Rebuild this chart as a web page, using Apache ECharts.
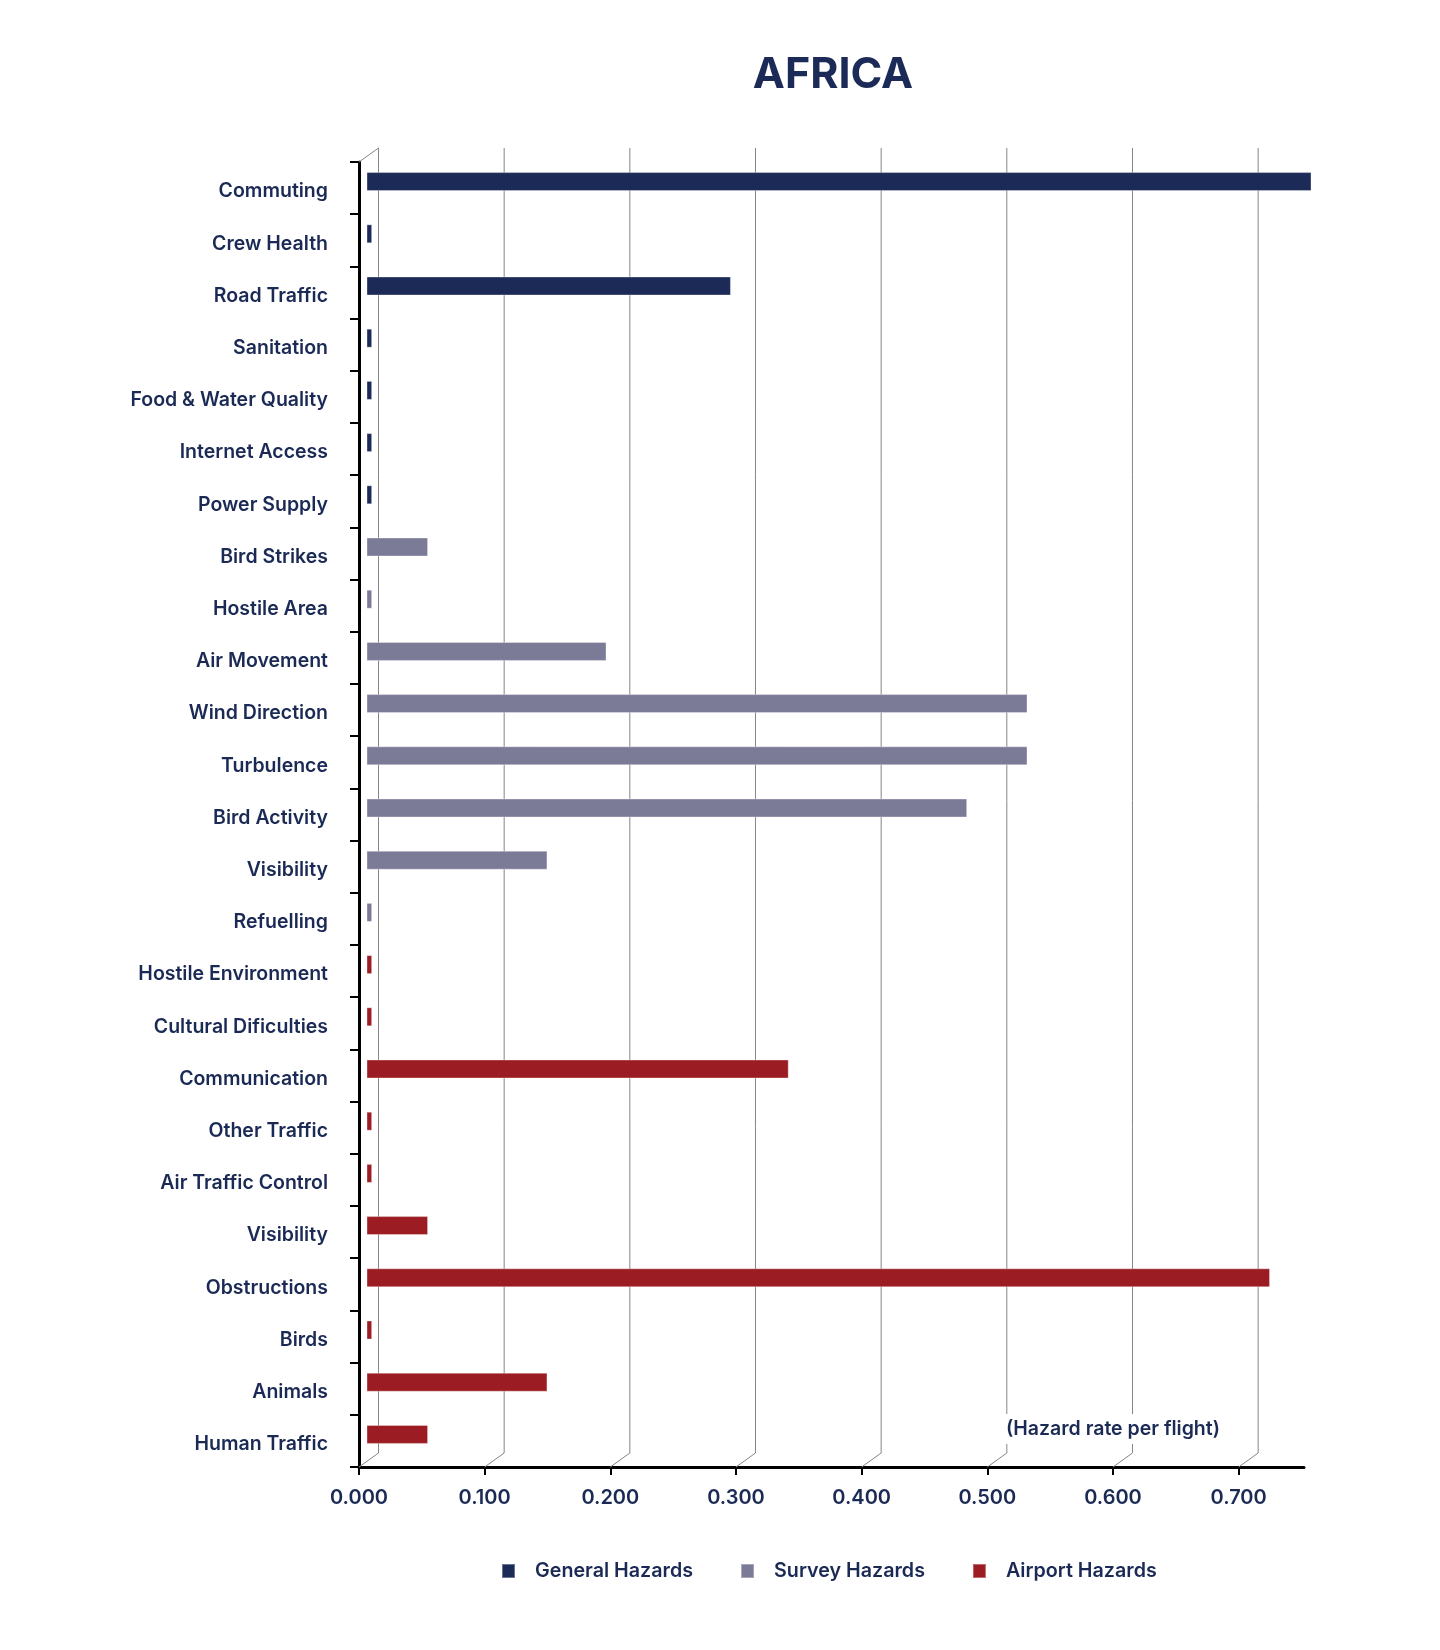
<!DOCTYPE html>
<html>
<head>
<meta charset="utf-8">
<script src="https://cdn.jsdelivr.net/npm/echarts@6/dist/echarts.min.js"></script>
<style>
html,body{margin:0;padding:0;background:#fff;}
#chart{width:1440px;height:1650px;}
</style>
</head>
<body>
<div id="chart"></div>
<script>
// ---- data ----
var generalCats = ['Commuting','Crew Health','Road Traffic','Sanitation','Food & Water Quality','Internet Access','Power Supply'];
var generalVals = [0.752, 0.0045, 0.290, 0.0045, 0.0045, 0.0045, 0.0045];
var surveyCats = ['Bird Strikes','Hostile Area','Air Movement','Wind Direction','Turbulence','Bird Activity','Visibility','Refuelling'];
var surveyVals = [0.049, 0.0045, 0.191, 0.526, 0.526, 0.478, 0.144, 0.0045];
var airportCats = ['Hostile Environment','Cultural Dificulties','Communication','Other Traffic','Air Traffic Control','Visibility','Obstructions','Birds','Animals','Human Traffic'];
var airportVals = [0.0045, 0.0045, 0.336, 0.0045, 0.0045, 0.049, 0.719, 0.0045, 0.144, 0.049];
var tickValues = [0, 0.1, 0.2, 0.3, 0.4, 0.5, 0.6, 0.7];
var axisMax = 0.752;
var seriesNames = ['General Hazards','Survey Hazards','Airport Hazards'];

// ---- build ----
var categories = generalCats.concat(surveyCats, airportCats);
function pad(vals, before, after){
  var out = [];
  for (var i=0;i<before;i++) out.push('-');
  out = out.concat(vals);
  for (var j=0;j<after;j++) out.push('-');
  return out;
}
var nG = generalCats.length, nS = surveyCats.length, nA = airportCats.length;
var gData = pad(generalVals, 0, nS+nA);
var sData = pad(surveyVals, nG, nA);
var aData = pad(airportVals, nG+nS, 0);

var NAVY = '#1b2a57', GREY = '#7b7a97', RED = '#9b1c22', TXT = '#1b2a55';
var DX = 19.5, DY = -14;           // depth offset of back wall
var BX = 7.5, BY = -6.5;           // depth offset of bars
var FONT = 'Inter';

var frontLeft = 359, frontTop = 162, frontW = 945, frontH = 1305;

var chart = echarts.init(document.getElementById('chart'), null, {renderer:'canvas'});
var option = {
  backgroundColor: '#ffffff',
  animation: false,
  title: [{
    text: 'AFRICA',
    left: 828, top: 49, textAlign: 'center',
    textStyle: {fontFamily: FONT, fontSize: 43, fontWeight: 700, color: NAVY}
  },{
    text: '(Hazard rate per flight)',
    left: 1003, top: 1414,
    padding: [5, 3, 5, 3],
    backgroundColor: '#ffffff',
    textStyle: {fontFamily: FONT, fontSize: 19.5, fontWeight: 600, color: TXT}
  }],
  legend: {
    data: seriesNames,
    left: 496, top: 1556,
    icon: 'rect', itemWidth: 13, itemHeight: 14,
    itemGap: 47,
    textStyle: {fontFamily: FONT, fontSize: 19.7, fontWeight: 600, color: TXT, padding: [0,0,0,15]}
  },
  grid: [
    {left: frontLeft, top: frontTop, width: frontW, height: frontH, containLabel: false},
    {left: frontLeft + BX, top: frontTop + BY, width: frontW, height: frontH, containLabel: false}
  ],
  xAxis: [{
    type: 'value', gridIndex: 0, min: 0, max: axisMax, interval: 0.1,
    axisLine: {show: true, lineStyle: {color: '#000', width: 3}},
    axisTick: {show: true, length: 8, lineStyle: {color: '#000', width: 2}, customValues: tickValues},
    axisLabel: {customValues: tickValues, margin: 21, fontFamily: FONT, fontSize: 20, fontWeight: 600, color: TXT,
      formatter: function(v){ return v.toFixed(3); }},
    splitLine: {show: false}
  },{
    type: 'value', gridIndex: 1, min: 0, max: axisMax, show: false, splitLine: {show:false}
  }],
  yAxis: [{
    type: 'category', gridIndex: 0, data: categories, inverse: true,
    axisLine: {show: true, lineStyle: {color: '#000', width: 3}},
    axisTick: {show: true, length: 9, alignWithLabel: false, lineStyle: {color: '#000', width: 2}},
    axisLabel: {margin: 31, interval: 0,
      formatter: function(v){ return '{a|' + v + '}'; },
      rich: {a: {fontFamily: FONT, fontSize: 19.5, fontWeight: 600, color: TXT, padding: [7, 0, 0, 0]}}},
    splitLine: {show: false}
  },{
    type: 'category', gridIndex: 1, data: categories, inverse: true, show: false
  }],
  series: [
    {
      type: 'custom', xAxisIndex: 0, yAxisIndex: 0, z: 1, silent: true,
      encode: {x: 0, y: 1},
      data: tickValues.map(function(v){ return [v, 0]; }),
      renderItem: function(params, api){
        var cs = params.coordSys;
        var x = api.coord([api.value(0), 0])[0];
        var yb = cs.y + cs.height, yt = cs.y;
        var st = {stroke: '#858585', lineWidth: 1, fill: null};
        var children = [{
          type: 'polyline',
          shape: {points: [[x, yb], [x + DX, yb + DY], [x + DX, yt + DY]]},
          style: st
        }];
        if (params.dataIndex === 0) {
          children.push({type: 'line', shape: {x1: cs.x, y1: yt, x2: cs.x + DX, y2: yt + DY}, style: st});
        }
        return {type: 'group', children: children};
      }
    },
    {
      name: seriesNames[0], type: 'bar', xAxisIndex: 1, yAxisIndex: 1,
      data: gData, barWidth: 19, barGap: '-100%',
      itemStyle: {color: NAVY, borderColor: 'rgba(255,255,255,0.35)', borderWidth: 1}
    },
    {
      name: seriesNames[1], type: 'bar', xAxisIndex: 1, yAxisIndex: 1,
      data: sData, barWidth: 19, barGap: '-100%',
      itemStyle: {color: GREY, borderColor: 'rgba(255,255,255,0.35)', borderWidth: 1}
    },
    {
      name: seriesNames[2], type: 'bar', xAxisIndex: 1, yAxisIndex: 1,
      data: aData, barWidth: 19, barGap: '-100%',
      itemStyle: {color: RED, borderColor: 'rgba(255,255,255,0.35)', borderWidth: 1}
    }
  ]
};
chart.setOption(option);
</script>
</body>
</html>
